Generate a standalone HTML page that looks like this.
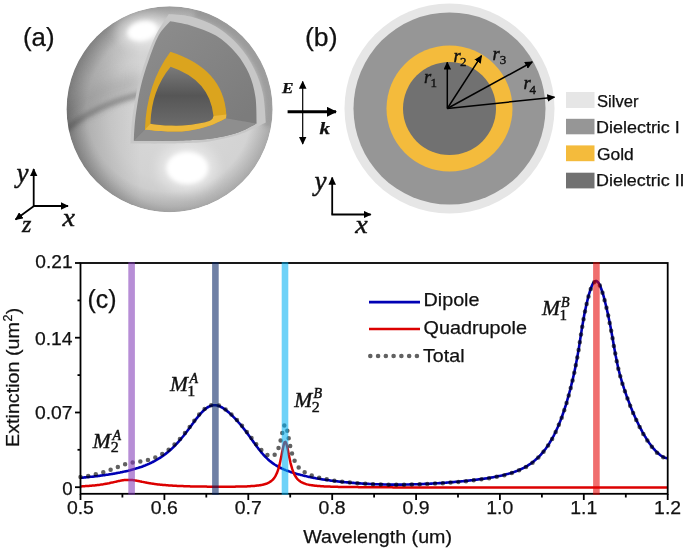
<!DOCTYPE html>
<html><head><meta charset="utf-8"><style>
html,body{margin:0;padding:0;background:#fff;}
svg{display:block;}

text{font-family:"Liberation Sans",sans-serif;fill:#111;stroke:#111;stroke-width:0.25px;}
svg{will-change:transform;}
.ser{font-family:"Liberation Serif",serif;font-style:italic;stroke:#111;stroke-width:0.45px;}
.up{font-family:"Liberation Serif",serif;font-style:normal;stroke:#111;stroke-width:0.4px;}
</style></head><body>
<svg width="685" height="550" viewBox="0 0 685 550">
<defs>
<radialGradient id="sph" gradientUnits="userSpaceOnUse" cx="180" cy="112" r="118">
<stop offset="0" stop-color="#dadada"/><stop offset="0.6" stop-color="#d3d3d3"/><stop offset="0.8" stop-color="#c8c8c8"/><stop offset="1" stop-color="#a6a6a6"/>
</radialGradient>
<linearGradient id="lshade" gradientUnits="userSpaceOnUse" x1="66" y1="0" x2="140" y2="0">
<stop offset="0" stop-color="#000" stop-opacity="0.17"/><stop offset="1" stop-color="#000" stop-opacity="0"/>
</linearGradient>
<linearGradient id="band" gradientUnits="userSpaceOnUse" x1="81.5" y1="84.3" x2="105.3" y2="122.5">
<stop offset="0" stop-color="#000" stop-opacity="0.0"/>
<stop offset="0.45" stop-color="#000" stop-opacity="0.08"/>
<stop offset="0.778" stop-color="#000" stop-opacity="0.27"/>
<stop offset="0.86" stop-color="#000" stop-opacity="0.08"/>
<stop offset="1" stop-color="#000" stop-opacity="0.0"/>
</linearGradient>
<radialGradient id="rim" gradientUnits="userSpaceOnUse" cx="169.6" cy="109.2" r="103">
<stop offset="0.8" stop-color="#000" stop-opacity="0"/><stop offset="1" stop-color="#000" stop-opacity="0.16"/>
</radialGradient>
<filter id="bl6" x="-50%" y="-50%" width="200%" height="200%"><feGaussianBlur stdDeviation="6"/></filter>
<filter id="bl3" x="-50%" y="-50%" width="200%" height="200%"><feGaussianBlur stdDeviation="3"/></filter>
<filter id="bl2" x="-50%" y="-50%" width="200%" height="200%"><feGaussianBlur stdDeviation="2"/></filter>
<filter id="bl10" x="-50%" y="-50%" width="200%" height="200%"><feGaussianBlur stdDeviation="10"/></filter>
<clipPath id="sclip"><circle cx="169.6" cy="109.2" r="103"/></clipPath>
<linearGradient id="core" gradientUnits="userSpaceOnUse" x1="0" y1="67" x2="0" y2="124">
<stop offset="0" stop-color="#7a7a7a"/><stop offset="0.5" stop-color="#565656"/><stop offset="1" stop-color="#6a6a6a"/>
</linearGradient>
<linearGradient id="dface" gradientUnits="userSpaceOnUse" x1="150" y1="20" x2="240" y2="120">
<stop offset="0" stop-color="#8d8d8d"/><stop offset="1" stop-color="#7c7c7c"/>
</linearGradient>
<marker id="ah" viewBox="0 0 10 10" refX="9" refY="5" markerWidth="8" markerHeight="7.6" markerUnits="userSpaceOnUse" orient="auto" preserveAspectRatio="none"><path d="M0,0 L10,5 L0,10 z" fill="#000"/></marker>
<marker id="ahk" viewBox="0 0 10 10" refX="9" refY="5" markerWidth="10" markerHeight="10" markerUnits="userSpaceOnUse" orient="auto"><path d="M0,0 L10,5 L0,10 z" fill="#000"/></marker>
</defs>

<!-- ===== panel a: sphere ===== -->
<g clip-path="url(#sclip)">
<circle cx="169.6" cy="109.2" r="103" fill="url(#sph)"/>
<path d="M58,122 Q90,93 142,82" stroke="#707070" stroke-width="20" fill="none" opacity="0.22" filter="url(#bl6)"/>
<path d="M61,134 Q92,105.5 142,94" stroke="#666" stroke-width="6" fill="none" opacity="0.5" filter="url(#bl2)"/>
<rect x="60" y="0" width="85" height="220" fill="url(#lshade)"/>
<ellipse cx="85" cy="75" rx="25" ry="30" fill="#9a9a9a" opacity="0.3" filter="url(#bl10)"/>
<circle cx="169.6" cy="109.2" r="103" fill="url(#rim)"/>
<path d="M195.2,13.6 A99,99 0 0 1 267.1,126.4" stroke="#8a8a8a" stroke-width="9" fill="none" opacity="0.5" filter="url(#bl2)"/>
<ellipse cx="142" cy="30" rx="26" ry="17" fill="#fff" opacity="0.45" filter="url(#bl6)"/>
<ellipse cx="142.5" cy="31" rx="15.5" ry="10" fill="#fff" filter="url(#bl2)" transform="rotate(-12 142.5 31)"/>
<ellipse cx="187.3" cy="168" rx="30" ry="24" fill="#fff" opacity="0.4" filter="url(#bl6)"/>
<ellipse cx="187.3" cy="168" rx="21" ry="16.3" fill="#fff" filter="url(#bl2)"/>
</g>
<path d="M168.8,13.9 C172.4,14.3 182.7,14.4 190.5,16.5 C198.3,18.6 207.8,21.7 215.9,26.6 C224.0,31.5 232.4,38.7 238.8,45.7 C245.2,52.7 250.1,60.6 254.1,68.7 C258.1,76.8 261.1,85.1 263.0,94.1 C264.9,103.1 265.3,117.8 265.8,122.6 C264.5,123.2 261.0,125.0 258.0,126.4 C255.0,127.8 251.7,129.4 248.0,130.9 C244.3,132.4 240.7,134.0 236.0,135.4 C231.3,136.8 225.2,138.1 220.0,139.2 C214.8,140.3 211.7,141.2 205.0,141.9 C198.3,142.6 187.5,142.9 180.0,143.2 C172.5,143.5 168.2,143.5 160.0,143.6 C151.8,143.7 135.4,143.5 130.5,143.5 C130.6,141.2 130.8,135.3 131.2,130.0 C131.6,124.7 132.1,119.1 133.2,111.8 C134.3,104.5 135.8,94.8 137.8,86.3 C139.8,77.8 142.4,69.4 145.4,60.9 C148.4,52.4 151.7,43.2 155.6,35.4 C159.5,27.6 166.6,17.5 168.8,13.9 Z" fill="#c7c7c7"/>
<path d="M170.2,21.2 C173.6,21.9 182.9,23.0 190.5,25.4 C198.1,27.8 208.3,30.9 215.9,35.6 C223.5,40.3 230.8,47.0 236.3,53.4 C241.8,59.8 245.8,66.6 249.0,73.8 C252.2,81.0 254.1,88.4 255.4,96.7 C256.7,105.0 256.4,119.0 256.6,123.5 C254.8,124.5 249.4,127.6 245.9,129.2 C242.4,130.8 240.0,131.9 235.7,133.2 C231.4,134.5 225.4,136.0 220.3,137.0 C215.2,138.0 211.7,138.7 205.0,139.3 C198.3,139.9 187.5,140.3 180.0,140.6 C172.5,140.9 167.7,140.9 160.0,140.9 C152.3,140.9 138.2,140.8 133.8,140.8 C133.9,139.0 133.9,134.8 134.3,130.0 C134.7,125.2 135.1,119.1 136.2,111.8 C137.3,104.5 138.8,94.8 140.8,86.3 C142.8,77.8 145.4,69.4 148.4,60.9 C151.4,52.4 155.0,42.0 158.6,35.4 C162.2,28.8 168.3,23.6 170.2,21.2 Z" fill="url(#dface)"/>
<path d="M226.0,118.2 C231.1,119.1 251.5,122.6 256.6,123.5 C254.8,124.5 249.4,127.6 245.9,129.2 C242.4,130.8 240.0,131.9 235.7,133.2 C231.4,134.5 225.4,136.0 220.3,137.0 C215.2,138.0 211.7,138.7 205.0,139.3 C198.3,139.9 187.5,140.3 180.0,140.6 C172.5,140.9 167.7,140.9 160.0,140.9 C152.3,140.9 138.2,140.8 133.8,140.8 L144.9,129.7 C148.7,130.0 160.4,131.2 167.7,131.4 C175.0,131.6 181.6,131.6 188.5,130.7 C195.4,129.8 203.1,127.9 209.3,125.8 C215.6,123.7 223.2,119.5 226.0,118.2 Z" fill="#8e8e8e"/>
<path d="M170.4,51.8 Q223.6,68.9 226.3,114.4 L226,118.2  C223.2,119.5 215.6,123.7 209.3,125.8 C203.1,127.9 195.4,129.8 188.5,130.7 C181.6,131.6 175.0,131.6 167.7,131.4 C160.4,131.2 148.7,130.0 144.9,129.7 Q146.5,84 170.4,51.8 Z" fill="#dba41e"/>
<path d="M150.4,123.7 C153.3,124.0 161.3,125.3 167.7,125.5 C174.0,125.7 181.6,125.8 188.5,125.1 C195.4,124.3 205.1,122.5 209.3,121.0 C213.5,119.5 212.8,116.9 213.5,116.1 L226.3,114.4 L226.0,118.2 C223.2,119.5 215.6,123.7 209.3,125.8 C203.1,127.9 195.4,129.8 188.5,130.7 C181.6,131.6 175.0,131.6 167.7,131.4 C160.4,131.2 148.7,130.0 144.9,129.7 L150.4,123.7 Z" fill="#ecb83a"/>
<path d="M170.6,66.8 Q210,80 213.5,116.1  C212.8,116.9 213.5,119.5 209.3,121.0 C205.1,122.5 195.4,124.3 188.5,125.1 C181.6,125.8 174.0,125.7 167.7,125.5 C161.3,125.3 153.3,124.0 150.4,123.7 Q151.5,90 170.6,66.8 Z" fill="url(#core)"/>

<!-- labels a -->
<text x="23" y="46" font-size="25" textLength="31.5" lengthAdjust="spacingAndGlyphs" >(a)</text>
<g stroke="#000" stroke-width="1.8" fill="none">
<line x1="33.7" y1="206" x2="33.7" y2="169" marker-end="url(#ah)"/>
<line x1="33" y1="206" x2="68" y2="206" marker-end="url(#ah)"/>
<line x1="34" y1="206" x2="15.5" y2="219.5" marker-end="url(#ah)"/>
</g>
<text x="16.5" y="182" font-size="27" class="ser" >y</text>
<text x="22" y="232" font-size="24" class="ser" >z</text>
<text x="62.5" y="226.2" font-size="25.5" textLength="12.5" lengthAdjust="spacingAndGlyphs" class="ser" >x</text>

<!-- E k -->
<g stroke="#000" fill="none">
<line x1="302.7" y1="112" x2="302.7" y2="81.5" stroke-width="1.2" marker-end="url(#ah)"/>
<line x1="302.7" y1="112" x2="302.7" y2="144" stroke-width="1.2" marker-end="url(#ah)"/>
<line x1="287.6" y1="111.8" x2="336" y2="111.8" stroke-width="3" marker-end="url(#ahk)"/>
</g>
<text x="282" y="92.7" textLength="11.5" lengthAdjust="spacingAndGlyphs" style="font-family:'Liberation Serif',serif;font-style:italic;font-weight:bold;font-size:15px">E</text>
<text x="319.5" y="133.6" textLength="10.5" lengthAdjust="spacingAndGlyphs" style="font-family:'Liberation Serif',serif;font-style:italic;font-weight:bold;font-size:16px">k</text>

<!-- ===== panel b ===== -->
<circle cx="449.5" cy="108.5" r="105" fill="#e6e6e6"/>
<circle cx="449.5" cy="108.5" r="96" fill="#969696"/>
<circle cx="449.5" cy="108.5" r="63" fill="#f4bb3c"/>
<circle cx="449.5" cy="108.5" r="46.5" fill="#717171"/>
<g stroke="#000" stroke-width="1.5" fill="none">
<line x1="447.3" y1="108.5" x2="447.3" y2="62.3" marker-end="url(#ah)"/>
<line x1="447.3" y1="108.5" x2="481.5" y2="55.7" marker-end="url(#ah)"/>
<line x1="447.3" y1="108.5" x2="532.3" y2="62" marker-end="url(#ah)"/>
<line x1="447.3" y1="108.5" x2="554.5" y2="97.2" marker-end="url(#ah)"/>
</g>
<text x="424" y="83" font-size="18.5" class="ser" >r</text><text x="430.5" y="86.7" font-size="13" class="up" >1</text>
<text x="453.5" y="61.7" font-size="18.5" class="ser" >r</text><text x="460" y="65.7" font-size="13" class="up" >2</text>
<text x="492.5" y="60" font-size="18.5" class="ser" >r</text><text x="499.7" y="64.3" font-size="13" class="up" >3</text>
<text x="523.5" y="88.8" font-size="18.5" class="ser" >r</text><text x="529.5" y="94" font-size="13" class="up" >4</text>
<text x="305" y="46" font-size="25" textLength="32.5" lengthAdjust="spacingAndGlyphs" >(b)</text>
<g stroke="#000" stroke-width="1.8" fill="none">
<line x1="332.2" y1="214.5" x2="332.2" y2="177.5" marker-end="url(#ah)"/>
<line x1="331.4" y1="214.5" x2="370.7" y2="214.5" marker-end="url(#ah)"/>
</g>
<text x="314.5" y="190.2" font-size="27" class="ser" >y</text>
<text x="355.3" y="233.4" font-size="25.5" textLength="12.5" lengthAdjust="spacingAndGlyphs" class="ser" >x</text>

<!-- legend materials -->
<rect x="566" y="92" width="28.5" height="16" fill="#e6e6e6"/>
<rect x="566" y="118.8" width="28.5" height="15.5" fill="#969696"/>
<rect x="566" y="145.4" width="28.5" height="15.8" fill="#f4bb3c"/>
<rect x="566" y="172.7" width="28.5" height="15.7" fill="#717171"/>
<text x="597" y="106.9" font-size="15.8" textLength="41.5" lengthAdjust="spacingAndGlyphs" >Silver</text>
<text x="596" y="132.8" font-size="15.8" textLength="83.8" lengthAdjust="spacingAndGlyphs" >Dielectric I</text>
<text x="597" y="159.5" font-size="15.8" textLength="36.8" lengthAdjust="spacingAndGlyphs" >Gold</text>
<text x="596" y="185.7" font-size="15.8" textLength="88.6" lengthAdjust="spacingAndGlyphs" >Dielectric II</text>

<!-- ===== chart ===== -->
<path d="M80.5,477.8 L81.3,477.7 L82.2,477.7 L83.0,477.6 L83.9,477.5 L84.7,477.4 L85.5,477.4 L86.4,477.3 L87.2,477.2 L88.1,477.1 L88.9,477.0 L89.7,476.9 L90.6,476.8 L91.4,476.8 L92.3,476.7 L93.1,476.6 L93.9,476.5 L94.8,476.4 L95.6,476.3 L96.5,476.2 L97.3,476.1 L98.1,476.0 L99.0,475.9 L99.8,475.7 L100.7,475.6 L101.5,475.5 L102.3,475.4 L103.2,475.3 L104.0,475.2 L104.9,475.1 L105.7,474.9 L106.5,474.8 L107.4,474.7 L108.2,474.6 L109.1,474.4 L109.9,474.3 L110.7,474.2 L111.6,474.0 L112.4,473.9 L113.3,473.7 L114.1,473.6 L114.9,473.5 L115.8,473.3 L116.6,473.1 L117.5,473.0 L118.3,472.8 L119.1,472.7 L120.0,472.5 L120.8,472.3 L121.7,472.2 L122.5,472.0 L123.3,471.8 L124.2,471.6 L125.0,471.4 L125.9,471.2 L126.7,471.1 L127.5,470.9 L128.4,470.7 L129.2,470.4 L130.1,470.2 L130.9,470.0 L131.7,469.8 L132.6,469.6 L133.4,469.3 L134.3,469.1 L135.1,468.8 L135.9,468.6 L136.8,468.3 L137.6,468.1 L138.5,467.8 L139.3,467.5 L140.1,467.2 L141.0,467.0 L141.8,466.7 L142.7,466.4 L143.5,466.0 L144.3,465.7 L145.2,465.4 L146.0,465.0 L146.9,464.7 L147.7,464.3 L148.5,464.0 L149.4,463.6 L150.2,463.2 L151.1,462.8 L151.9,462.4 L152.7,462.0 L153.6,461.5 L154.4,461.1 L155.3,460.6 L156.1,460.2 L156.9,459.7 L157.8,459.2 L158.6,458.7 L159.5,458.2 L160.3,457.6 L161.1,457.1 L162.0,456.5 L162.8,455.9 L163.7,455.3 L164.5,454.7 L165.3,454.1 L166.2,453.4 L167.0,452.7 L167.9,452.1 L168.7,451.4 L169.5,450.6 L170.4,449.9 L171.2,449.2 L172.1,448.4 L172.9,447.6 L173.7,446.8 L174.6,446.0 L175.4,445.1 L176.3,444.2 L177.1,443.3 L177.9,442.4 L178.8,441.5 L179.6,440.5 L180.5,439.6 L181.3,438.6 L182.1,437.5 L183.0,436.5 L183.8,435.5 L184.7,434.4 L185.5,433.3 L186.3,432.2 L187.2,431.1 L188.0,430.0 L188.9,428.9 L189.7,427.7 L190.5,426.6 L191.4,425.5 L192.2,424.3 L193.1,423.2 L193.9,422.1 L194.7,420.9 L195.6,419.8 L196.4,418.7 L197.3,417.7 L198.1,416.6 L198.9,415.6 L199.8,414.6 L200.6,413.6 L201.5,412.7 L202.3,411.8 L203.1,411.0 L204.0,410.2 L204.8,409.4 L205.7,408.7 L206.5,408.1 L207.3,407.5 L208.2,407.0 L209.0,406.6 L209.9,406.2 L210.7,405.9 L211.5,405.6 L212.4,405.4 L213.2,405.3 L214.1,405.2 L214.9,405.2 L215.7,405.3 L216.6,405.4 L217.4,405.6 L218.3,405.8 L219.1,406.1 L219.9,406.4 L220.8,406.8 L221.6,407.3 L222.5,407.7 L223.3,408.3 L224.1,408.8 L225.0,409.4 L225.8,410.0 L226.7,410.7 L227.5,411.4 L228.4,412.1 L229.2,412.8 L230.0,413.6 L230.9,414.4 L231.7,415.2 L232.6,416.0 L233.4,416.9 L234.2,417.7 L235.1,418.6 L235.9,419.5 L236.8,420.4 L237.6,421.3 L238.4,422.3 L239.3,423.2 L240.1,424.2 L241.0,425.2 L241.8,426.2 L242.6,427.3 L243.5,428.3 L244.3,429.4 L245.2,430.5 L246.0,431.6 L246.8,432.7 L247.7,433.9 L248.5,435.0 L249.4,436.2 L250.2,437.4 L251.0,438.6 L251.9,439.7 L252.7,440.9 L253.6,442.1 L254.4,443.2 L255.2,444.4 L256.1,445.5 L256.9,446.7 L257.8,447.8 L258.6,448.9 L259.4,450.0 L260.3,451.0 L261.1,452.1 L262.0,453.1 L262.8,454.0 L263.6,455.0 L264.5,455.9 L265.3,456.8 L266.2,457.6 L267.0,458.4 L267.8,459.2 L268.7,460.0 L269.5,460.7 L270.4,461.4 L271.2,462.0 L272.0,462.7 L272.9,463.3 L273.7,463.9 L274.6,464.5 L275.4,465.0 L276.2,465.5 L277.1,466.0 L277.9,466.5 L278.8,467.0 L279.6,467.4 L280.4,467.8 L281.3,468.2 L282.1,468.6 L283.0,469.0 L283.8,469.4 L284.6,469.7 L285.5,470.1 L286.3,470.4 L287.2,470.7 L288.0,471.0 L288.8,471.3 L289.7,471.6 L290.5,471.9 L291.4,472.2 L292.2,472.4 L293.0,472.7 L293.9,473.0 L294.7,473.2 L295.6,473.5 L296.4,473.7 L297.2,474.0 L298.1,474.2 L298.9,474.4 L299.8,474.6 L300.6,474.9 L301.4,475.1 L302.3,475.3 L303.1,475.5 L304.0,475.7 L304.8,475.9 L305.6,476.1 L306.5,476.3 L307.3,476.5 L308.2,476.7 L309.0,476.9 L309.8,477.0 L310.7,477.2 L311.5,477.4 L312.4,477.6 L313.2,477.7 L314.0,477.9 L314.9,478.0 L315.7,478.2 L316.6,478.4 L317.4,478.5 L318.2,478.7 L319.1,478.8 L319.9,478.9 L320.8,479.1 L321.6,479.2 L322.4,479.4 L323.3,479.5 L324.1,479.6 L325.0,479.7 L325.8,479.9 L326.6,480.0 L327.5,480.1 L328.3,480.2 L329.2,480.3 L330.0,480.5 L330.8,480.6 L331.7,480.7 L332.5,480.8 L333.4,480.9 L334.2,481.0 L335.0,481.1 L335.9,481.2 L336.7,481.3 L337.6,481.4 L338.4,481.5 L339.2,481.6 L340.1,481.7 L340.9,481.8 L341.8,481.9 L342.6,482.0 L343.4,482.0 L344.3,482.1 L345.1,482.2 L346.0,482.3 L346.8,482.4 L347.6,482.4 L348.5,482.5 L349.3,482.6 L350.2,482.7 L351.0,482.7 L351.8,482.8 L352.7,482.9 L353.5,482.9 L354.4,483.0 L355.2,483.1 L356.0,483.1 L356.9,483.2 L357.7,483.3 L358.6,483.3 L359.4,483.4 L360.2,483.4 L361.1,483.5 L361.9,483.5 L362.8,483.6 L363.6,483.6 L364.4,483.7 L365.3,483.7 L366.1,483.8 L367.0,483.8 L367.8,483.9 L368.6,483.9 L369.5,484.0 L370.3,484.0 L371.2,484.0 L372.0,484.1 L372.8,484.1 L373.7,484.1 L374.5,484.2 L375.4,484.2 L376.2,484.2 L377.0,484.3 L377.9,484.3 L378.7,484.3 L379.6,484.4 L380.4,484.4 L381.2,484.4 L382.1,484.4 L382.9,484.4 L383.8,484.5 L384.6,484.5 L385.4,484.5 L386.3,484.5 L387.1,484.5 L388.0,484.5 L388.8,484.6 L389.6,484.6 L390.5,484.6 L391.3,484.6 L392.2,484.6 L393.0,484.6 L393.8,484.6 L394.7,484.6 L395.5,484.6 L396.4,484.6 L397.2,484.6 L398.0,484.6 L398.9,484.6 L399.7,484.6 L400.6,484.6 L401.4,484.6 L402.2,484.6 L403.1,484.6 L403.9,484.6 L404.8,484.5 L405.6,484.5 L406.4,484.5 L407.3,484.5 L408.1,484.5 L409.0,484.5 L409.8,484.4 L410.6,484.4 L411.5,484.4 L412.3,484.4 L413.2,484.4 L414.0,484.3 L414.8,484.3 L415.7,484.3 L416.5,484.3 L417.4,484.2 L418.2,484.2 L419.0,484.2 L419.9,484.1 L420.7,484.1 L421.6,484.1 L422.4,484.0 L423.2,484.0 L424.1,484.0 L424.9,483.9 L425.8,483.9 L426.6,483.8 L427.4,483.8 L428.3,483.8 L429.1,483.7 L430.0,483.7 L430.8,483.6 L431.6,483.6 L432.5,483.5 L433.3,483.5 L434.2,483.4 L435.0,483.4 L435.8,483.3 L436.7,483.3 L437.5,483.2 L438.4,483.2 L439.2,483.1 L440.0,483.1 L440.9,483.0 L441.7,483.0 L442.6,482.9 L443.4,482.8 L444.2,482.8 L445.1,482.7 L445.9,482.7 L446.8,482.6 L447.6,482.5 L448.4,482.5 L449.3,482.4 L450.1,482.3 L451.0,482.3 L451.8,482.2 L452.6,482.1 L453.5,482.1 L454.3,482.0 L455.2,481.9 L456.0,481.8 L456.8,481.8 L457.7,481.7 L458.5,481.6 L459.4,481.5 L460.2,481.5 L461.0,481.4 L461.9,481.3 L462.7,481.2 L463.6,481.1 L464.4,481.1 L465.2,481.0 L466.1,480.9 L466.9,480.8 L467.8,480.7 L468.6,480.6 L469.4,480.5 L470.3,480.4 L471.1,480.3 L472.0,480.2 L472.8,480.1 L473.6,480.0 L474.5,479.9 L475.3,479.8 L476.2,479.7 L477.0,479.6 L477.8,479.5 L478.7,479.4 L479.5,479.3 L480.4,479.2 L481.2,479.1 L482.0,479.0 L482.9,478.8 L483.7,478.7 L484.6,478.6 L485.4,478.5 L486.2,478.4 L487.1,478.2 L487.9,478.1 L488.8,478.0 L489.6,477.8 L490.4,477.7 L491.3,477.5 L492.1,477.4 L493.0,477.2 L493.8,477.1 L494.6,476.9 L495.5,476.8 L496.3,476.6 L497.2,476.4 L498.0,476.3 L498.8,476.1 L499.7,475.9 L500.5,475.7 L501.4,475.6 L502.2,475.4 L503.0,475.2 L503.9,475.0 L504.7,474.8 L505.6,474.5 L506.4,474.3 L507.2,474.1 L508.1,473.9 L508.9,473.6 L509.8,473.4 L510.6,473.1 L511.4,472.9 L512.3,472.6 L513.1,472.3 L514.0,472.0 L514.8,471.7 L515.6,471.4 L516.5,471.1 L517.3,470.8 L518.2,470.4 L519.0,470.1 L519.8,469.7 L520.7,469.3 L521.5,468.9 L522.4,468.5 L523.2,468.1 L524.1,467.7 L524.9,467.2 L525.7,466.7 L526.6,466.3 L527.4,465.8 L528.3,465.2 L529.1,464.7 L529.9,464.1 L530.8,463.6 L531.6,462.9 L532.5,462.3 L533.3,461.7 L534.1,461.0 L535.0,460.3 L535.8,459.6 L536.7,458.8 L537.5,458.0 L538.3,457.2 L539.2,456.4 L540.0,455.5 L540.9,454.6 L541.7,453.6 L542.5,452.7 L543.4,451.6 L544.2,450.6 L545.1,449.5 L545.9,448.4 L546.7,447.2 L547.6,446.0 L548.4,444.7 L549.3,443.4 L550.1,442.0 L550.9,440.6 L551.8,439.2 L552.6,437.6 L553.5,436.1 L554.3,434.5 L555.1,432.8 L556.0,431.0 L556.8,429.2 L557.7,427.3 L558.5,425.4 L559.3,423.4 L560.2,421.3 L561.0,419.1 L561.9,416.9 L562.7,414.5 L563.5,412.1 L564.4,409.6 L565.2,407.0 L566.1,404.3 L566.9,401.5 L567.7,398.6 L568.6,395.6 L569.4,392.5 L570.3,389.3 L571.1,386.0 L571.9,382.6 L572.8,379.1 L573.6,375.4 L574.5,371.5 L575.3,367.5 L576.1,363.2 L577.0,358.8 L577.8,354.1 L578.7,349.2 L579.5,344.0 L580.3,338.6 L581.2,333.1 L582.0,327.7 L582.9,322.7 L583.7,318.0 L584.5,313.5 L585.4,309.4 L586.2,305.5 L587.1,301.8 L587.9,298.4 L588.7,295.2 L589.6,292.3 L590.4,289.6 L591.3,287.3 L592.1,285.3 L592.9,283.6 L593.8,282.4 L594.6,281.5 L595.5,281.1 L596.3,281.0 L597.1,281.4 L598.0,282.2 L598.8,283.3 L599.7,284.9 L600.5,286.8 L601.3,289.0 L602.2,291.5 L603.0,294.2 L603.9,297.2 L604.7,300.4 L605.5,303.7 L606.4,307.2 L607.2,310.9 L608.1,314.7 L608.9,318.7 L609.7,322.8 L610.6,327.2 L611.4,331.7 L612.3,336.4 L613.1,341.2 L613.9,346.0 L614.8,350.7 L615.6,355.3 L616.5,359.7 L617.3,363.8 L618.1,367.6 L619.0,371.1 L619.8,374.4 L620.7,377.5 L621.5,380.4 L622.3,383.2 L623.2,385.8 L624.0,388.4 L624.9,390.9 L625.7,393.3 L626.5,395.7 L627.4,398.0 L628.2,400.3 L629.1,402.5 L629.9,404.7 L630.7,406.9 L631.6,409.0 L632.4,411.0 L633.3,413.0 L634.1,414.9 L634.9,416.8 L635.8,418.7 L636.6,420.5 L637.5,422.3 L638.3,424.0 L639.1,425.7 L640.0,427.4 L640.8,429.0 L641.7,430.5 L642.5,432.1 L643.3,433.6 L644.2,435.0 L645.0,436.4 L645.9,437.8 L646.7,439.2 L647.5,440.5 L648.4,441.7 L649.2,443.0 L650.1,444.1 L650.9,445.3 L651.7,446.4 L652.6,447.4 L653.4,448.5 L654.3,449.4 L655.1,450.4 L655.9,451.2 L656.8,452.1 L657.6,452.9 L658.5,453.6 L659.3,454.3 L660.1,455.0 L661.0,455.6 L661.8,456.1 L662.7,456.6 L663.5,457.1 L664.3,457.5 L665.2,457.8 L666.0,458.1 L666.9,458.3 L667.7,458.4" fill="none" stroke="#0000b4" stroke-width="2.6" stroke-linejoin="round"/>
<path d="M80.5,486.4 L81.3,486.4 L82.2,486.3 L83.0,486.3 L83.9,486.2 L84.7,486.2 L85.5,486.1 L86.4,486.1 L87.2,486.0 L88.1,486.0 L88.9,485.9 L89.7,485.8 L90.6,485.8 L91.4,485.7 L92.3,485.6 L93.1,485.5 L93.9,485.5 L94.8,485.4 L95.6,485.3 L96.5,485.2 L97.3,485.1 L98.1,485.0 L99.0,484.9 L99.8,484.8 L100.7,484.6 L101.5,484.5 L102.3,484.4 L103.2,484.3 L104.0,484.1 L104.9,484.0 L105.7,483.8 L106.5,483.7 L107.4,483.5 L108.2,483.4 L109.1,483.2 L109.9,483.0 L110.7,482.8 L111.6,482.6 L112.4,482.5 L113.3,482.3 L114.1,482.1 L114.9,481.9 L115.8,481.7 L116.6,481.5 L117.5,481.3 L118.3,481.1 L119.1,481.0 L120.0,480.8 L120.8,480.6 L121.7,480.5 L122.5,480.3 L123.3,480.2 L124.2,480.1 L125.0,480.0 L125.9,480.0 L126.7,479.9 L127.5,479.9 L128.4,479.9 L129.2,479.9 L130.1,479.9 L130.9,480.0 L131.7,480.0 L132.6,480.1 L133.4,480.2 L134.3,480.3 L135.1,480.4 L135.9,480.6 L136.8,480.7 L137.6,480.9 L138.5,481.0 L139.3,481.2 L140.1,481.4 L141.0,481.5 L141.8,481.7 L142.7,481.9 L143.5,482.1 L144.3,482.2 L145.2,482.4 L146.0,482.5 L146.9,482.7 L147.7,482.9 L148.5,483.0 L149.4,483.2 L150.2,483.3 L151.1,483.4 L151.9,483.6 L152.7,483.7 L153.6,483.8 L154.4,483.9 L155.3,484.1 L156.1,484.2 L156.9,484.3 L157.8,484.4 L158.6,484.5 L159.5,484.6 L160.3,484.7 L161.1,484.8 L162.0,484.8 L162.8,484.9 L163.7,485.0 L164.5,485.1 L165.3,485.1 L166.2,485.2 L167.0,485.3 L167.9,485.3 L168.7,485.4 L169.5,485.5 L170.4,485.5 L171.2,485.6 L172.1,485.6 L172.9,485.7 L173.7,485.7 L174.6,485.8 L175.4,485.8 L176.3,485.8 L177.1,485.9 L177.9,485.9 L178.8,486.0 L179.6,486.0 L180.5,486.0 L181.3,486.1 L182.1,486.1 L183.0,486.1 L183.8,486.2 L184.7,486.2 L185.5,486.2 L186.3,486.2 L187.2,486.3 L188.0,486.3 L188.9,486.3 L189.7,486.3 L190.5,486.4 L191.4,486.4 L192.2,486.4 L193.1,486.4 L193.9,486.4 L194.7,486.5 L195.6,486.5 L196.4,486.5 L197.3,486.5 L198.1,486.5 L198.9,486.5 L199.8,486.6 L200.6,486.6 L201.5,486.6 L202.3,486.6 L203.1,486.6 L204.0,486.6 L204.8,486.6 L205.7,486.6 L206.5,486.6 L207.3,486.7 L208.2,486.7 L209.0,486.7 L209.9,486.7 L210.7,486.7 L211.5,486.7 L212.4,486.7 L213.2,486.7 L214.1,486.7 L214.9,486.7 L215.7,486.7 L216.6,486.7 L217.4,486.7 L218.3,486.7 L219.1,486.7 L219.9,486.7 L220.8,486.7 L221.6,486.7 L222.5,486.7 L223.3,486.7 L224.1,486.7 L225.0,486.7 L225.8,486.7 L226.7,486.7 L227.5,486.7 L228.4,486.7 L229.2,486.7 L230.0,486.7 L230.9,486.7 L231.7,486.7 L232.6,486.7 L233.4,486.7 L234.2,486.7 L235.1,486.7 L235.9,486.6 L236.8,486.6 L237.6,486.6 L238.4,486.6 L239.3,486.6 L240.1,486.6 L241.0,486.5 L241.8,486.5 L242.6,486.5 L243.5,486.5 L244.3,486.4 L245.2,486.4 L246.0,486.4 L246.8,486.4 L247.7,486.3 L248.5,486.3 L249.4,486.2 L250.2,486.2 L251.0,486.1 L251.9,486.1 L252.7,486.0 L253.6,486.0 L254.4,485.9 L255.2,485.8 L256.1,485.7 L256.9,485.6 L257.8,485.5 L258.6,485.4 L259.4,485.3 L260.3,485.2 L261.1,485.0 L262.0,484.9 L262.8,484.7 L263.6,484.5 L264.5,484.3 L265.3,484.0 L266.2,483.8 L267.0,483.5 L267.8,483.1 L268.7,482.7 L269.5,482.2 L270.4,481.7 L271.2,481.1 L272.0,480.4 L272.9,479.6 L273.7,478.6 L274.6,477.4 L275.4,476.1 L276.2,474.5 L277.1,472.6 L277.9,470.3 L278.8,467.6 L279.6,464.4 L280.4,460.7 L281.3,456.6 L282.1,452.2 L283.0,448.0 L283.8,444.4 L284.6,442.2 L285.5,441.9 L286.3,443.5 L287.2,446.6 L288.0,450.6 L288.8,454.8 L289.7,459.0 L290.5,462.8 L291.4,466.1 L292.2,468.9 L293.0,471.3 L293.9,473.4 L294.7,475.1 L295.6,476.5 L296.4,477.7 L297.2,478.8 L298.1,479.7 L298.9,480.4 L299.8,481.1 L300.6,481.7 L301.4,482.2 L302.3,482.6 L303.1,483.0 L304.0,483.3 L304.8,483.6 L305.6,483.9 L306.5,484.2 L307.3,484.4 L308.2,484.6 L309.0,484.8 L309.8,484.9 L310.7,485.1 L311.5,485.2 L312.4,485.3 L313.2,485.5 L314.0,485.6 L314.9,485.7 L315.7,485.8 L316.6,485.8 L317.4,485.9 L318.2,486.0 L319.1,486.1 L319.9,486.1 L320.8,486.2 L321.6,486.2 L322.4,486.3 L323.3,486.3 L324.1,486.4 L325.0,486.4 L325.8,486.5 L326.6,486.5 L327.5,486.5 L328.3,486.6 L329.2,486.6 L330.0,486.6 L330.8,486.7 L331.7,486.7 L332.5,486.7 L333.4,486.7 L334.2,486.8 L335.0,486.8 L335.9,486.8 L336.7,486.8 L337.6,486.8 L338.4,486.9 L339.2,486.9 L340.1,486.9 L340.9,486.9 L341.8,486.9 L342.6,486.9 L343.4,487.0 L344.3,487.0 L345.1,487.0 L346.0,487.0 L346.8,487.0 L347.6,487.0 L348.5,487.0 L349.3,487.1 L350.2,487.1 L351.0,487.1 L351.8,487.1 L352.7,487.1 L353.5,487.1 L354.4,487.1 L355.2,487.1 L356.0,487.1 L356.9,487.1 L357.7,487.1 L358.6,487.2 L359.4,487.2 L360.2,487.2 L361.1,487.2 L361.9,487.2 L362.8,487.2 L363.6,487.2 L364.4,487.2 L365.3,487.2 L366.1,487.2 L367.0,487.2 L367.8,487.2 L368.6,487.2 L369.5,487.2 L370.3,487.2 L371.2,487.3 L372.0,487.3 L372.8,487.3 L373.7,487.3 L374.5,487.3 L375.4,487.3 L376.2,487.3 L377.0,487.3 L377.9,487.3 L378.7,487.3 L379.6,487.3 L380.4,487.3 L381.2,487.3 L382.1,487.3 L382.9,487.3 L383.8,487.3 L384.6,487.3 L385.4,487.3 L386.3,487.3 L387.1,487.3 L388.0,487.3 L388.8,487.3 L389.6,487.3 L390.5,487.3 L391.3,487.3 L392.2,487.3 L393.0,487.4 L393.8,487.4 L394.7,487.4 L395.5,487.4 L396.4,487.4 L397.2,487.4 L398.0,487.4 L398.9,487.4 L399.7,487.4 L400.6,487.4 L401.4,487.4 L402.2,487.4 L403.1,487.4 L403.9,487.4 L404.8,487.4 L405.6,487.4 L406.4,487.4 L407.3,487.4 L408.1,487.4 L409.0,487.4 L409.8,487.4 L410.6,487.4 L411.5,487.4 L412.3,487.4 L413.2,487.4 L414.0,487.4 L414.8,487.4 L415.7,487.4 L416.5,487.4 L417.4,487.4 L418.2,487.4 L419.0,487.4 L419.9,487.4 L420.7,487.4 L421.6,487.4 L422.4,487.4 L423.2,487.4 L424.1,487.4 L424.9,487.4 L425.8,487.4 L426.6,487.4 L427.4,487.4 L428.3,487.4 L429.1,487.4 L430.0,487.4 L430.8,487.4 L431.6,487.4 L432.5,487.4 L433.3,487.4 L434.2,487.4 L435.0,487.4 L435.8,487.4 L436.7,487.5 L437.5,487.5 L438.4,487.5 L439.2,487.5 L440.0,487.5 L440.9,487.5 L441.7,487.5 L442.6,487.5 L443.4,487.5 L444.2,487.5 L445.1,487.5 L445.9,487.5 L446.8,487.5 L447.6,487.5 L448.4,487.5 L449.3,487.5 L450.1,487.5 L451.0,487.5 L451.8,487.5 L452.6,487.5 L453.5,487.5 L454.3,487.5 L455.2,487.5 L456.0,487.5 L456.8,487.5 L457.7,487.5 L458.5,487.5 L459.4,487.5 L460.2,487.5 L461.0,487.5 L461.9,487.5 L462.7,487.5 L463.6,487.5 L464.4,487.5 L465.2,487.5 L466.1,487.5 L466.9,487.5 L467.8,487.5 L468.6,487.5 L469.4,487.5 L470.3,487.5 L471.1,487.5 L472.0,487.5 L472.8,487.5 L473.6,487.5 L474.5,487.5 L475.3,487.5 L476.2,487.5 L477.0,487.5 L477.8,487.5 L478.7,487.5 L479.5,487.5 L480.4,487.5 L481.2,487.5 L482.0,487.5 L482.9,487.5 L483.7,487.5 L484.6,487.5 L485.4,487.5 L486.2,487.5 L487.1,487.5 L487.9,487.5 L488.8,487.5 L489.6,487.5 L490.4,487.5 L491.3,487.5 L492.1,487.5 L493.0,487.5 L493.8,487.5 L494.6,487.5 L495.5,487.5 L496.3,487.5 L497.2,487.5 L498.0,487.5 L498.8,487.5 L499.7,487.5 L500.5,487.5 L501.4,487.5 L502.2,487.5 L503.0,487.5 L503.9,487.5 L504.7,487.5 L505.6,487.5 L506.4,487.5 L507.2,487.5 L508.1,487.5 L508.9,487.5 L509.8,487.5 L510.6,487.5 L511.4,487.5 L512.3,487.5 L513.1,487.5 L514.0,487.5 L514.8,487.5 L515.6,487.5 L516.5,487.5 L517.3,487.5 L518.2,487.5 L519.0,487.5 L519.8,487.5 L520.7,487.5 L521.5,487.5 L522.4,487.5 L523.2,487.5 L524.1,487.5 L524.9,487.5 L525.7,487.5 L526.6,487.5 L527.4,487.5 L528.3,487.5 L529.1,487.5 L529.9,487.5 L530.8,487.5 L531.6,487.5 L532.5,487.5 L533.3,487.5 L534.1,487.5 L535.0,487.5 L535.8,487.5 L536.7,487.5 L537.5,487.5 L538.3,487.5 L539.2,487.5 L540.0,487.5 L540.9,487.5 L541.7,487.5 L542.5,487.5 L543.4,487.5 L544.2,487.5 L545.1,487.5 L545.9,487.5 L546.7,487.5 L547.6,487.5 L548.4,487.5 L549.3,487.5 L550.1,487.5 L550.9,487.5 L551.8,487.5 L552.6,487.5 L553.5,487.5 L554.3,487.5 L555.1,487.5 L556.0,487.5 L556.8,487.5 L557.7,487.5 L558.5,487.5 L559.3,487.5 L560.2,487.5 L561.0,487.5 L561.9,487.5 L562.7,487.5 L563.5,487.5 L564.4,487.5 L565.2,487.5 L566.1,487.5 L566.9,487.5 L567.7,487.6 L568.6,487.6 L569.4,487.6 L570.3,487.6 L571.1,487.6 L571.9,487.6 L572.8,487.6 L573.6,487.6 L574.5,487.6 L575.3,487.6 L576.1,487.6 L577.0,487.6 L577.8,487.6 L578.7,487.6 L579.5,487.6 L580.3,487.6 L581.2,487.6 L582.0,487.6 L582.9,487.6 L583.7,487.6 L584.5,487.6 L585.4,487.6 L586.2,487.6 L587.1,487.6 L587.9,487.6 L588.7,487.6 L589.6,487.6 L590.4,487.6 L591.3,487.6 L592.1,487.6 L592.9,487.6 L593.8,487.6 L594.6,487.6 L595.5,487.6 L596.3,487.6 L597.1,487.6 L598.0,487.6 L598.8,487.6 L599.7,487.6 L600.5,487.6 L601.3,487.6 L602.2,487.6 L603.0,487.6 L603.9,487.6 L604.7,487.6 L605.5,487.6 L606.4,487.6 L607.2,487.6 L608.1,487.6 L608.9,487.6 L609.7,487.6 L610.6,487.6 L611.4,487.6 L612.3,487.6 L613.1,487.6 L613.9,487.6 L614.8,487.6 L615.6,487.6 L616.5,487.6 L617.3,487.6 L618.1,487.6 L619.0,487.6 L619.8,487.6 L620.7,487.6 L621.5,487.6 L622.3,487.6 L623.2,487.6 L624.0,487.6 L624.9,487.6 L625.7,487.6 L626.5,487.6 L627.4,487.6 L628.2,487.6 L629.1,487.6 L629.9,487.6 L630.7,487.6 L631.6,487.6 L632.4,487.6 L633.3,487.6 L634.1,487.6 L634.9,487.6 L635.8,487.6 L636.6,487.6 L637.5,487.6 L638.3,487.6 L639.1,487.6 L640.0,487.6 L640.8,487.6 L641.7,487.6 L642.5,487.6 L643.3,487.6 L644.2,487.6 L645.0,487.6 L645.9,487.6 L646.7,487.6 L647.5,487.6 L648.4,487.6 L649.2,487.6 L650.1,487.6 L650.9,487.6 L651.7,487.6 L652.6,487.6 L653.4,487.6 L654.3,487.6 L655.1,487.6 L655.9,487.6 L656.8,487.6 L657.6,487.6 L658.5,487.6 L659.3,487.6 L660.1,487.6 L661.0,487.6 L661.8,487.6 L662.7,487.6 L663.5,487.6 L664.3,487.6 L665.2,487.6 L666.0,487.6 L666.9,487.6 L667.7,487.6" fill="none" stroke="#dc0000" stroke-width="2.5" stroke-linejoin="round"/>
<path d="M80.5,477.0 L81.3,476.9 L82.2,476.8 L83.0,476.7 L83.9,476.5 L84.7,476.4 L85.5,476.3 L86.4,476.1 L87.2,476.0 L88.1,475.9 L88.9,475.7 L89.7,475.6 L90.6,475.4 L91.4,475.2 L92.3,475.1 L93.1,474.9 L93.9,474.7 L94.8,474.5 L95.6,474.3 L96.5,474.2 L97.3,474.0 L98.1,473.7 L99.0,473.5 L99.8,473.3 L100.7,473.1 L101.5,472.9 L102.3,472.6 L103.2,472.4 L104.0,472.1 L104.9,471.8 L105.7,471.6 L106.5,471.3 L107.4,471.0 L108.2,470.7 L109.1,470.4 L109.9,470.1 L110.7,469.8 L111.6,469.5 L112.4,469.1 L113.3,468.8 L114.1,468.5 L114.9,468.1 L115.8,467.8 L116.6,467.4 L117.5,467.1 L118.3,466.8 L119.1,466.4 L120.0,466.1 L120.8,465.8 L121.7,465.4 L122.5,465.1 L123.3,464.8 L124.2,464.5 L125.0,464.3 L125.9,464.0 L126.7,463.8 L127.5,463.5 L128.4,463.3 L129.2,463.1 L130.1,462.9 L130.9,462.8 L131.7,462.6 L132.6,462.5 L133.4,462.3 L134.3,462.2 L135.1,462.1 L135.9,462.0 L136.8,461.9 L137.6,461.8 L138.5,461.6 L139.3,461.5 L140.1,461.4 L141.0,461.3 L141.8,461.2 L142.7,461.0 L143.5,460.9 L144.3,460.7 L145.2,460.6 L146.0,460.4 L146.9,460.2 L147.7,460.0 L148.5,459.8 L149.4,459.6 L150.2,459.3 L151.1,459.0 L151.9,458.8 L152.7,458.5 L153.6,458.2 L154.4,457.8 L155.3,457.5 L156.1,457.1 L156.9,456.8 L157.8,456.4 L158.6,456.0 L159.5,455.5 L160.3,455.1 L161.1,454.6 L162.0,454.1 L162.8,453.6 L163.7,453.1 L164.5,452.6 L165.3,452.0 L166.2,451.4 L167.0,450.8 L167.9,450.2 L168.7,449.6 L169.5,448.9 L170.4,448.2 L171.2,447.5 L172.1,446.8 L172.9,446.1 L173.7,445.3 L174.6,444.5 L175.4,443.7 L176.3,442.9 L177.1,442.0 L177.9,441.1 L178.8,440.2 L179.6,439.3 L180.5,438.4 L181.3,437.4 L182.1,436.4 L183.0,435.4 L183.8,434.4 L184.7,433.4 L185.5,432.3 L186.3,431.3 L187.2,430.2 L188.0,429.1 L188.9,428.0 L189.7,426.9 L190.5,425.8 L191.4,424.6 L192.2,423.5 L193.1,422.4 L193.9,421.3 L194.7,420.2 L195.6,419.1 L196.4,418.0 L197.3,417.0 L198.1,415.9 L198.9,414.9 L199.8,414.0 L200.6,413.0 L201.5,412.1 L202.3,411.2 L203.1,410.4 L204.0,409.6 L204.8,408.9 L205.7,408.2 L206.5,407.6 L207.3,407.0 L208.2,406.5 L209.0,406.0 L209.9,405.7 L210.7,405.3 L211.5,405.1 L212.4,404.9 L213.2,404.8 L214.1,404.7 L214.9,404.7 L215.7,404.8 L216.6,404.9 L217.4,405.1 L218.3,405.3 L219.1,405.6 L219.9,406.0 L220.8,406.4 L221.6,406.8 L222.5,407.3 L223.3,407.8 L224.1,408.4 L225.0,408.9 L225.8,409.6 L226.7,410.2 L227.5,410.9 L228.4,411.6 L229.2,412.4 L230.0,413.1 L230.9,413.9 L231.7,414.7 L232.6,415.5 L233.4,416.3 L234.2,417.2 L235.1,418.1 L235.9,418.9 L236.8,419.8 L237.6,420.8 L238.4,421.7 L239.3,422.6 L240.1,423.6 L241.0,424.6 L241.8,425.6 L242.6,426.6 L243.5,427.6 L244.3,428.6 L245.2,429.7 L246.0,430.8 L246.8,431.9 L247.7,433.0 L248.5,434.1 L249.4,435.2 L250.2,436.4 L251.0,437.5 L251.9,438.6 L252.7,439.7 L253.6,440.8 L254.4,441.9 L255.2,443.0 L256.1,444.1 L256.9,445.1 L257.8,446.1 L258.6,447.1 L259.4,448.1 L260.3,449.0 L261.1,449.9 L262.0,450.8 L262.8,451.6 L263.6,452.3 L264.5,453.0 L265.3,453.6 L266.2,454.2 L267.0,454.7 L267.8,455.1 L268.7,455.5 L269.5,455.7 L270.4,455.9 L271.2,455.9 L272.0,455.9 L272.9,455.7 L273.7,455.3 L274.6,454.7 L275.4,453.9 L276.2,452.8 L277.1,451.4 L277.9,449.6 L278.8,447.3 L279.6,444.6 L280.4,441.3 L281.3,437.6 L282.1,433.6 L283.0,429.8 L283.8,426.6 L284.6,424.8 L285.5,424.8 L286.3,426.7 L287.2,430.1 L288.0,434.4 L288.8,439.0 L289.7,443.4 L290.5,447.5 L291.4,451.1 L292.2,454.2 L293.0,456.8 L293.9,459.1 L294.7,461.1 L295.6,462.8 L296.4,464.3 L297.2,465.5 L298.1,466.7 L298.9,467.7 L299.8,468.5 L300.6,469.3 L301.4,470.1 L302.3,470.7 L303.1,471.3 L304.0,471.9 L304.8,472.4 L305.6,472.8 L306.5,473.3 L307.3,473.7 L308.2,474.1 L309.0,474.4 L309.8,474.8 L310.7,475.1 L311.5,475.4 L312.4,475.7 L313.2,476.0 L314.0,476.2 L314.9,476.5 L315.7,476.8 L316.6,477.0 L317.4,477.2 L318.2,477.4 L319.1,477.6 L319.9,477.9 L320.8,478.1 L321.6,478.2 L322.4,478.4 L323.3,478.6 L324.1,478.8 L325.0,479.0 L325.8,479.1 L326.6,479.3 L327.5,479.4 L328.3,479.6 L329.2,479.7 L330.0,479.9 L330.8,480.0 L331.7,480.2 L332.5,480.3 L333.4,480.4 L334.2,480.6 L335.0,480.7 L335.9,480.8 L336.7,480.9 L337.6,481.1 L338.4,481.2 L339.2,481.3 L340.1,481.4 L340.9,481.5 L341.8,481.6 L342.6,481.7 L343.4,481.8 L344.3,481.9 L345.1,482.0 L346.0,482.1 L346.8,482.2 L347.6,482.3 L348.5,482.4 L349.3,482.4 L350.2,482.5 L351.0,482.6 L351.8,482.7 L352.7,482.8 L353.5,482.8 L354.4,482.9 L355.2,483.0 L356.0,483.1 L356.9,483.1 L357.7,483.2 L358.6,483.3 L359.4,483.3 L360.2,483.4 L361.1,483.5 L361.9,483.5 L362.8,483.6 L363.6,483.6 L364.4,483.7 L365.3,483.7 L366.1,483.8 L367.0,483.8 L367.8,483.9 L368.6,483.9 L369.5,484.0 L370.3,484.0 L371.2,484.1 L372.0,484.1 L372.8,484.2 L373.7,484.2 L374.5,484.2 L375.4,484.3 L376.2,484.3 L377.0,484.4 L377.9,484.4 L378.7,484.4 L379.6,484.4 L380.4,484.5 L381.2,484.5 L382.1,484.5 L382.9,484.6 L383.8,484.6 L384.6,484.6 L385.4,484.6 L386.3,484.6 L387.1,484.7 L388.0,484.7 L388.8,484.7 L389.6,484.7 L390.5,484.7 L391.3,484.7 L392.2,484.7 L393.0,484.7 L393.8,484.8 L394.7,484.8 L395.5,484.8 L396.4,484.8 L397.2,484.8 L398.0,484.8 L398.9,484.8 L399.7,484.8 L400.6,484.8 L401.4,484.8 L402.2,484.8 L403.1,484.7 L403.9,484.7 L404.8,484.7 L405.6,484.7 L406.4,484.7 L407.3,484.7 L408.1,484.7 L409.0,484.7 L409.8,484.6 L410.6,484.6 L411.5,484.6 L412.3,484.6 L413.2,484.6 L414.0,484.5 L414.8,484.5 L415.7,484.5 L416.5,484.5 L417.4,484.4 L418.2,484.4 L419.0,484.4 L419.9,484.3 L420.7,484.3 L421.6,484.3 L422.4,484.3 L423.2,484.2 L424.1,484.2 L424.9,484.1 L425.8,484.1 L426.6,484.1 L427.4,484.0 L428.3,484.0 L429.1,483.9 L430.0,483.9 L430.8,483.9 L431.6,483.8 L432.5,483.8 L433.3,483.7 L434.2,483.7 L435.0,483.6 L435.8,483.6 L436.7,483.5 L437.5,483.5 L438.4,483.4 L439.2,483.4 L440.0,483.3 L440.9,483.3 L441.7,483.2 L442.6,483.2 L443.4,483.1 L444.2,483.0 L445.1,483.0 L445.9,482.9 L446.8,482.9 L447.6,482.8 L448.4,482.7 L449.3,482.7 L450.1,482.6 L451.0,482.5 L451.8,482.5 L452.6,482.4 L453.5,482.3 L454.3,482.3 L455.2,482.2 L456.0,482.1 L456.8,482.1 L457.7,482.0 L458.5,481.9 L459.4,481.8 L460.2,481.7 L461.0,481.7 L461.9,481.6 L462.7,481.5 L463.6,481.4 L464.4,481.3 L465.2,481.3 L466.1,481.2 L466.9,481.1 L467.8,481.0 L468.6,480.9 L469.4,480.8 L470.3,480.7 L471.1,480.6 L472.0,480.5 L472.8,480.4 L473.6,480.3 L474.5,480.2 L475.3,480.1 L476.2,480.0 L477.0,479.9 L477.8,479.8 L478.7,479.7 L479.5,479.6 L480.4,479.5 L481.2,479.4 L482.0,479.3 L482.9,479.2 L483.7,479.0 L484.6,478.9 L485.4,478.8 L486.2,478.7 L487.1,478.5 L487.9,478.4 L488.8,478.3 L489.6,478.1 L490.4,478.0 L491.3,477.8 L492.1,477.7 L493.0,477.6 L493.8,477.4 L494.6,477.2 L495.5,477.1 L496.3,476.9 L497.2,476.8 L498.0,476.6 L498.8,476.4 L499.7,476.2 L500.5,476.1 L501.4,475.9 L502.2,475.7 L503.0,475.5 L503.9,475.3 L504.7,475.1 L505.6,474.9 L506.4,474.6 L507.2,474.4 L508.1,474.2 L508.9,474.0 L509.8,473.7 L510.6,473.5 L511.4,473.2 L512.3,472.9 L513.1,472.6 L514.0,472.3 L514.8,472.1 L515.6,471.7 L516.5,471.4 L517.3,471.1 L518.2,470.7 L519.0,470.4 L519.8,470.0 L520.7,469.7 L521.5,469.3 L522.4,468.9 L523.2,468.4 L524.1,468.0 L524.9,467.5 L525.7,467.1 L526.6,466.6 L527.4,466.1 L528.3,465.6 L529.1,465.0 L529.9,464.5 L530.8,463.9 L531.6,463.3 L532.5,462.7 L533.3,462.0 L534.1,461.3 L535.0,460.6 L535.8,459.9 L536.7,459.2 L537.5,458.4 L538.3,457.6 L539.2,456.7 L540.0,455.8 L540.9,454.9 L541.7,454.0 L542.5,453.0 L543.4,452.0 L544.2,450.9 L545.1,449.8 L545.9,448.7 L546.7,447.5 L547.6,446.3 L548.4,445.0 L549.3,443.7 L550.1,442.4 L550.9,441.0 L551.8,439.5 L552.6,438.0 L553.5,436.4 L554.3,434.8 L555.1,433.1 L556.0,431.4 L556.8,429.6 L557.7,427.7 L558.5,425.7 L559.3,423.7 L560.2,421.6 L561.0,419.4 L561.9,417.2 L562.7,414.9 L563.5,412.4 L564.4,409.9 L565.2,407.3 L566.1,404.6 L566.9,401.8 L567.7,399.0 L568.6,396.0 L569.4,392.9 L570.3,389.7 L571.1,386.4 L571.9,383.0 L572.8,379.4 L573.6,375.7 L574.5,371.9 L575.3,367.8 L576.1,363.6 L577.0,359.1 L577.8,354.4 L578.7,349.5 L579.5,344.4 L580.3,339.0 L581.2,333.4 L582.0,328.1 L582.9,323.0 L583.7,318.3 L584.5,313.9 L585.4,309.7 L586.2,305.8 L587.1,302.2 L587.9,298.8 L588.7,295.6 L589.6,292.6 L590.4,290.0 L591.3,287.6 L592.1,285.6 L592.9,284.0 L593.8,282.7 L594.6,281.9 L595.5,281.4 L596.3,281.4 L597.1,281.8 L598.0,282.5 L598.8,283.7 L599.7,285.2 L600.5,287.1 L601.3,289.3 L602.2,291.8 L603.0,294.6 L603.9,297.6 L604.7,300.7 L605.5,304.1 L606.4,307.6 L607.2,311.2 L608.1,315.0 L608.9,319.0 L609.7,323.2 L610.6,327.5 L611.4,332.0 L612.3,336.7 L613.1,341.5 L613.9,346.3 L614.8,351.0 L615.6,355.7 L616.5,360.0 L617.3,364.2 L618.1,368.0 L619.0,371.5 L619.8,374.8 L620.7,377.9 L621.5,380.8 L622.3,383.5 L623.2,386.2 L624.0,388.7 L624.9,391.2 L625.7,393.7 L626.5,396.1 L627.4,398.4 L628.2,400.7 L629.1,402.9 L629.9,405.1 L630.7,407.2 L631.6,409.3 L632.4,411.4 L633.3,413.4 L634.1,415.3 L634.9,417.2 L635.8,419.1 L636.6,420.9 L637.5,422.7 L638.3,424.4 L639.1,426.1 L640.0,427.7 L640.8,429.3 L641.7,430.9 L642.5,432.5 L643.3,433.9 L644.2,435.4 L645.0,436.8 L645.9,438.2 L646.7,439.5 L647.5,440.8 L648.4,442.1 L649.2,443.3 L650.1,444.5 L650.9,445.6 L651.7,446.7 L652.6,447.8 L653.4,448.8 L654.3,449.8 L655.1,450.7 L655.9,451.6 L656.8,452.5 L657.6,453.3 L658.5,454.0 L659.3,454.7 L660.1,455.3 L661.0,456.0 L661.8,456.5 L662.7,457.0 L663.5,457.4 L664.3,457.8 L665.2,458.2 L666.0,458.4 L666.9,458.7 L667.7,458.8" fill="none" stroke="#000" stroke-opacity="0.62" stroke-width="4.5" stroke-dasharray="0 7.77" stroke-linecap="round"/>
<g stroke="#000" stroke-width="1.8" fill="none">
<rect x="80.5" y="263" width="587.2" height="230.8"/>
<line x1="80.5" y1="494" x2="80.5" y2="500" /><line x1="122.4" y1="494" x2="122.4" y2="497.5" /><line x1="164.4" y1="494" x2="164.4" y2="500" /><line x1="206.3" y1="494" x2="206.3" y2="497.5" /><line x1="248.3" y1="494" x2="248.3" y2="500" /><line x1="290.2" y1="494" x2="290.2" y2="497.5" /><line x1="332.2" y1="494" x2="332.2" y2="500" /><line x1="374.1" y1="494" x2="374.1" y2="497.5" /><line x1="416.1" y1="494" x2="416.1" y2="500" /><line x1="458.0" y1="494" x2="458.0" y2="497.5" /><line x1="499.9" y1="494" x2="499.9" y2="500" /><line x1="541.9" y1="494" x2="541.9" y2="497.5" /><line x1="583.8" y1="494" x2="583.8" y2="500" /><line x1="625.8" y1="494" x2="625.8" y2="497.5" /><line x1="667.7" y1="494" x2="667.7" y2="500" />
<line x1="75" y1="487.2" x2="80.5" y2="487.2" /><line x1="77.5" y1="449.8" x2="80.5" y2="449.8" /><line x1="75" y1="412.5" x2="80.5" y2="412.5" /><line x1="77.5" y1="375.1" x2="80.5" y2="375.1" /><line x1="75" y1="337.7" x2="80.5" y2="337.7" /><line x1="77.5" y1="300.4" x2="80.5" y2="300.4" /><line x1="75" y1="263.0" x2="80.5" y2="263.0" />
</g>
<rect x="128.3" y="262.2" width="6.6" height="232.6" fill="rgb(129,57,183)" fill-opacity="0.57"/><rect x="212.1" y="262.2" width="6.6" height="232.6" fill="rgb(1,32,97)" fill-opacity="0.57"/><rect x="281.7" y="262.2" width="6.6" height="232.6" fill="rgb(0,176,243)" fill-opacity="0.57"/><rect x="593.1" y="262.2" width="6.6" height="232.6" fill="rgb(229,0,0)" fill-opacity="0.57"/>
<text x="66.9" y="513.9" font-size="18.6" textLength="27" lengthAdjust="spacingAndGlyphs" >0.5</text><text x="150.8" y="513.9" font-size="18.6" textLength="27" lengthAdjust="spacingAndGlyphs" >0.6</text><text x="234.7" y="513.9" font-size="18.6" textLength="27" lengthAdjust="spacingAndGlyphs" >0.7</text><text x="318.6" y="513.9" font-size="18.6" textLength="27" lengthAdjust="spacingAndGlyphs" >0.8</text><text x="402.5" y="513.9" font-size="18.6" textLength="27" lengthAdjust="spacingAndGlyphs" >0.9</text><text x="486.3" y="513.9" font-size="18.6" textLength="27" lengthAdjust="spacingAndGlyphs" >1.0</text><text x="570.2" y="513.9" font-size="18.6" textLength="27" lengthAdjust="spacingAndGlyphs" >1.1</text><text x="654.1" y="513.9" font-size="18.6" textLength="27" lengthAdjust="spacingAndGlyphs" >1.2</text><text x="62.2" y="494.8" font-size="18.6" textLength="10.4" lengthAdjust="spacingAndGlyphs" >0</text><text x="35.0" y="419.0" font-size="18.6" textLength="37.6" lengthAdjust="spacingAndGlyphs" >0.07</text><text x="35.0" y="344.6" font-size="18.6" textLength="37.6" lengthAdjust="spacingAndGlyphs" >0.14</text><text x="35.3" y="267.7" font-size="18.6" textLength="37.3" lengthAdjust="spacingAndGlyphs" >0.21</text>
<text x="303.2" y="543.2" font-size="19" textLength="148.8" lengthAdjust="spacingAndGlyphs" >Wavelength (um)</text>
<g transform="translate(19,447) rotate(-90)"><text x="0" y="0" font-size="19" textLength="125" lengthAdjust="spacingAndGlyphs" >Extinction (um</text><text x="125.5" y="-7" font-size="12.5" >2</text><text x="132.8" y="0" font-size="19" >)</text></g>
<text x="87.6" y="308" font-size="25" textLength="29" lengthAdjust="spacingAndGlyphs" >(c)</text>
<!-- legend -->
<line x1="369" y1="302.2" x2="420" y2="302.2" stroke="#0000b4" stroke-width="2.7"/>
<line x1="369" y1="329" x2="420" y2="329" stroke="#dc0000" stroke-width="2.5"/>
<line x1="370.3" y1="356" x2="417" y2="356" stroke="#000" stroke-opacity="0.62" stroke-width="4.6" stroke-dasharray="0 7.77" stroke-linecap="round"/>
<text x="423.5" y="306.4" font-size="18.5" textLength="56" lengthAdjust="spacingAndGlyphs" >Dipole</text>
<text x="423.5" y="334" font-size="18.5" textLength="103.5" lengthAdjust="spacingAndGlyphs" >Quadrupole</text>
<text x="423" y="361.7" font-size="18.5" textLength="41.5" lengthAdjust="spacingAndGlyphs" >Total</text>
<!-- annotations -->
<text x="170" y="391.3" font-size="21.5" class="ser" >M</text><text x="187.3" y="396" font-size="14" textLength="8" lengthAdjust="spacingAndGlyphs" class="up" >1</text><text x="189.5" y="382.8" font-size="14" class="ser" >A</text>
<text x="92.8" y="447.8" font-size="21.5" class="ser" >M</text><text x="110.8" y="452.4" font-size="14" textLength="8" lengthAdjust="spacingAndGlyphs" class="up" >2</text><text x="112.5" y="439.7" font-size="14" class="ser" >A</text>
<text x="294.3" y="406.7" font-size="21.5" class="ser" >M</text><text x="311.8" y="411.7" font-size="14" textLength="8" lengthAdjust="spacingAndGlyphs" class="up" >2</text><text x="313.6" y="398.1" font-size="14" class="ser" >B</text>
<text x="542.1" y="314.8" font-size="21.5" class="ser" >M</text><text x="559.6" y="319.6" font-size="14" textLength="7.5" lengthAdjust="spacingAndGlyphs" class="up" >1</text><text x="561" y="306.5" font-size="14" class="ser" >B</text>
</svg>
</body></html>
